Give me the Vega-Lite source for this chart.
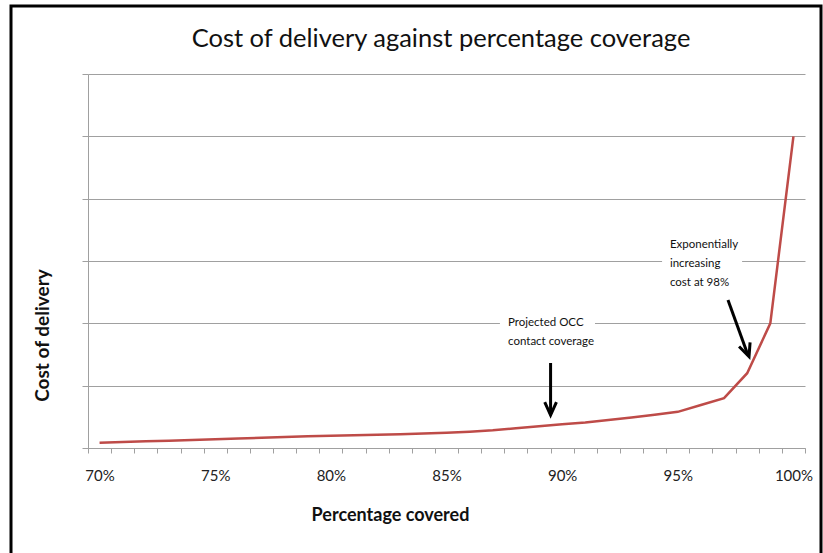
{
  "$schema": "https://vega.github.io/schema/vega-lite/v6.json",
  "autosize": "none",
  "width": 810,
  "height": 549,
  "padding": {"left": 11, "top": 6, "right": 2, "bottom": 0},
  "background": "white",
  "title": {
    "text": "Cost of delivery against percentage coverage",
    "font": "Lato",
    "fontSize": 25.5,
    "fontWeight": "normal",
    "color": "#111111",
    "anchor": "middle",
    "frame": "group",
    "dx": 25,
    "dy": 25,
    "offset": -41,
    "baseline": "alphabetic"
  },
  "config": {
    "view": {"stroke": "black", "strokeWidth": 3},
    "font": "Lato"
  },
  "datasets": {
    "curve": [
      {"pct": 70, "cost": 0.85},
      {"pct": 71, "cost": 0.96},
      {"pct": 72, "cost": 1.07},
      {"pct": 73, "cost": 1.18},
      {"pct": 74, "cost": 1.29},
      {"pct": 75, "cost": 1.4},
      {"pct": 76, "cost": 1.52},
      {"pct": 77, "cost": 1.64},
      {"pct": 78, "cost": 1.76},
      {"pct": 79, "cost": 1.88},
      {"pct": 80, "cost": 1.95},
      {"pct": 81, "cost": 2.03},
      {"pct": 82, "cost": 2.12},
      {"pct": 83, "cost": 2.22},
      {"pct": 84, "cost": 2.33},
      {"pct": 85, "cost": 2.45},
      {"pct": 86, "cost": 2.62},
      {"pct": 87, "cost": 2.84},
      {"pct": 88, "cost": 3.15},
      {"pct": 89, "cost": 3.48},
      {"pct": 90, "cost": 3.8},
      {"pct": 91, "cost": 4.1},
      {"pct": 92, "cost": 4.5},
      {"pct": 93, "cost": 4.9},
      {"pct": 94, "cost": 5.35},
      {"pct": 95, "cost": 5.8},
      {"pct": 96, "cost": 6.9},
      {"pct": 97, "cost": 8.0},
      {"pct": 98, "cost": 12.0},
      {"pct": 99, "cost": 20.0},
      {"pct": 100, "cost": 50.0}
    ],
    "notes": [
      {"name": "occ", "label": "Projected OCC\ncontact coverage", "pct": 87.66, "cost": 20.94, "bx": 87.31, "bx2": 91.42, "by": 15.5, "by2": 21.5},
      {"name": "exp", "label": "Exponentially\nincreasing\ncost at 98%", "pct": 94.66, "cost": 33.6, "bx": 94.32, "bx2": 97.78, "by": 25.2, "by2": 34.2}
    ],
    "arrows": [
      {"name": "occ", "pct": 89.5, "cost": 13.64, "pct2": 89.5, "cost2": 5.6},
      {"name": "exp", "pct": 97.17, "cost": 23.74, "pct2": 98.04, "cost2": 14.85}
    ],
    "tips": [
      {"name": "occ", "pct": 89.5, "cost": 5.29},
      {"name": "exp", "pct": 98.08, "cost": 14.65}
    ]
  },
  "encoding": {
    "x": {
      "field": "pct",
      "type": "quantitative",
      "scale": {"domain": [69.5, 100.5], "range": [77, 794], "nice": false, "zero": false},
      "axis": {
        "values": [69.5, 70.5, 71.5, 72.5, 73.5, 74.5, 75.5, 76.5, 77.5, 78.5, 79.5, 80.5, 81.5, 82.5, 83.5, 84.5, 85.5, 86.5, 87.5, 88.5, 89.5, 90.5, 91.5, 92.5, 93.5, 94.5, 95.5, 96.5, 97.5, 98.5, 99.5, 100.5],
        "labelExpr": "(datum.value + 0.5) % 5 === 0 ? format(datum.value + 0.5, 'd') + '%' : ''",
        "labelOffset": 11.57,
        "labelFlush": false,
        "labelOverlap": false,
        "labelBound": false,
        "labelFont": "Lato",
        "labelFontSize": 15,
        "labelColor": "#222222",
        "labelPadding": 15,
        "tickSize": 5,
        "tickColor": "#a0a0a0",
        "domainColor": "#a0a0a0",
        "grid": false,
        "offset": -107,
        "title": "Percentage covered",
        "titleFont": "Lato",
        "titleFontSize": 18,
        "titleFontWeight": "bold",
        "titleColor": "#111111",
        "titleX": 379,
        "titleY": 67,
        "titleBaseline": "middle"
      }
    },
    "y": {
      "field": "cost",
      "type": "quantitative",
      "scale": {"domain": [0, 60], "range": [442, 68], "nice": false, "zero": false},
      "axis": {
        "values": [0, 10, 20, 30, 40, 50, 60],
        "labels": false,
        "tickSize": 6,
        "tickColor": "#a0a0a0",
        "domainColor": "#a0a0a0",
        "grid": true,
        "gridColor": "#a0a0a0",
        "gridOpacity": 1,
        "offset": -77,
        "title": "Cost of delivery",
        "titleFont": "Lato",
        "titleFontSize": 19,
        "titleFontWeight": "bold",
        "titleColor": "#111111",
        "titleX": -46,
        "titleY": 329,
        "titleBaseline": "middle"
      }
    }
  },
  "layer": [
    {
      "data": {"name": "curve"},
      "mark": {"type": "line", "color": "#be4b48", "strokeWidth": 2.5}
    },
    {
      "data": {"name": "notes"},
      "mark": {"type": "rect", "color": "white"},
      "encoding": {
        "x": {"field": "bx", "type": "quantitative"},
        "x2": {"field": "bx2"},
        "y": {"field": "by", "type": "quantitative"},
        "y2": {"field": "by2"}
      }
    },
    {
      "data": {"name": "notes"},
      "mark": {"type": "text", "align": "left", "baseline": "top", "font": "Lato", "fontSize": 11.5, "lineHeight": 19, "lineBreak": "\n", "color": "#111111"},
      "encoding": {
        "text": {"field": "label"}
      }
    },
    {
      "data": {"name": "arrows"},
      "mark": {"type": "rule", "color": "black", "strokeWidth": 3},
      "encoding": {
        "x2": {"field": "pct2"},
        "y2": {"field": "cost2"}
      }
    },
    {
      "data": {"name": "tips"},
      "transform": [{"filter": "datum.name === 'occ'"}],
      "mark": {"type": "point", "shape": "M -0.45 -1 L 0 0 L 0.45 -1", "size": 676, "filled": false, "stroke": "black", "strokeWidth": 3, "opacity": 1, "angle": 0}
    },
    {
      "data": {"name": "tips"},
      "transform": [{"filter": "datum.name === 'exp'"}],
      "mark": {"type": "point", "shape": "M -0.45 -1 L 0 0 L 0.45 -1", "size": 676, "filled": false, "stroke": "black", "strokeWidth": 3, "opacity": 1, "angle": -20}
    }
  ]
}
